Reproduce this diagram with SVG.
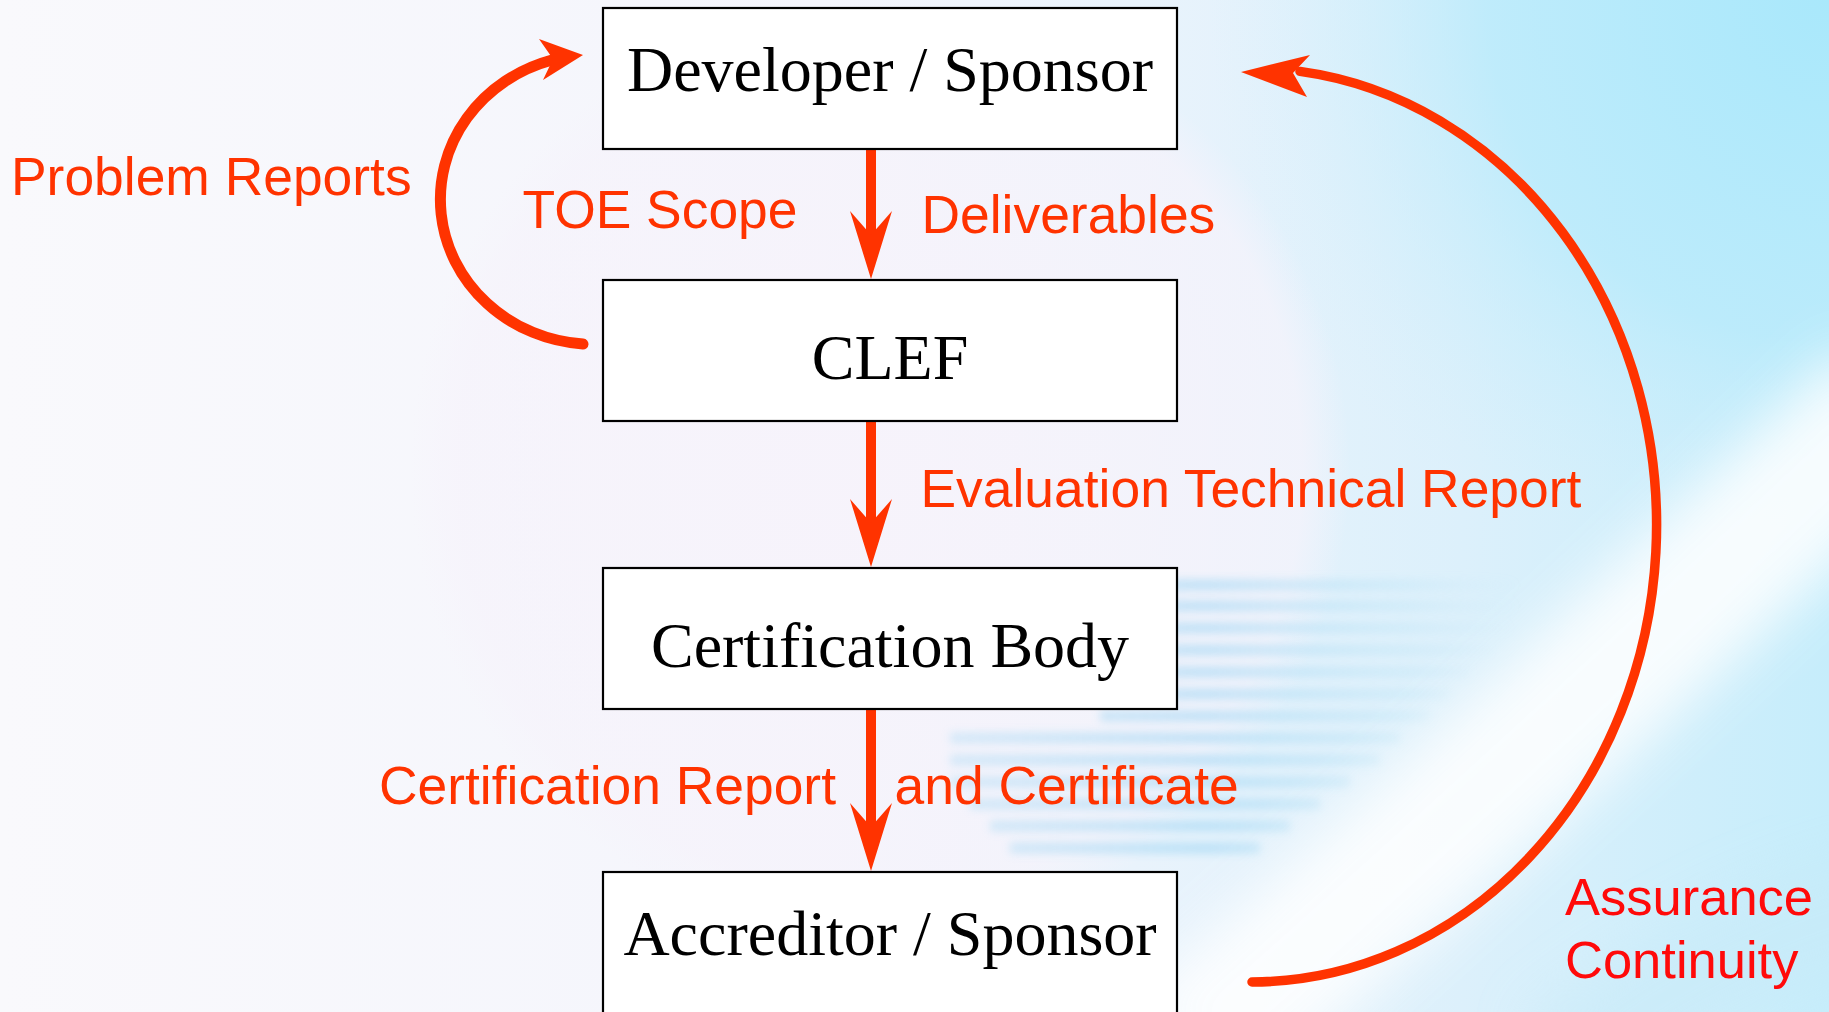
<svg xmlns="http://www.w3.org/2000/svg" width="1829" height="1012" viewBox="0 0 1829 1012">
  <defs>
    <style>
      .box { fill: #ffffff; stroke: #000000; stroke-width: 2.2; }
      .node-text { font-family: "Liberation Serif", "Times New Roman", serif; font-size: 64px; fill: #000000; text-anchor: middle; }
      .label { font-family: "Liberation Sans", Arial, sans-serif; font-size: 53.4px; fill: #ff3300; }
      .label-red { font-family: "Liberation Sans", Arial, sans-serif; font-size: 52.5px; fill: #ff0a0a; }
      .shaft { stroke: #ff3300; stroke-width: 10; fill: none; }
      .curve { stroke: #ff3300; fill: none; stroke-linecap: round; }
      .head { fill: #ff3300; }
    </style>
    <linearGradient id="bgGrad" x1="0" y1="0" x2="1" y2="0">
      <stop offset="0" stop-color="#f9f9fc"/>
      <stop offset="0.45" stop-color="#f4f5fc"/>
      <stop offset="0.62" stop-color="#e9f3fc"/>
      <stop offset="0.8" stop-color="#dcf0fb"/>
      <stop offset="1" stop-color="#c6edfb"/>
    </linearGradient>
    <radialGradient id="cyanGlow" cx="1829" cy="0" r="620" gradientUnits="userSpaceOnUse">
      <stop offset="0" stop-color="#a9e8fb" stop-opacity="1"/>
      <stop offset="0.55" stop-color="#b6eafb" stop-opacity="0.75"/>
      <stop offset="1" stop-color="#d8f0fc" stop-opacity="0"/>
    </radialGradient>
    <radialGradient id="lavender" cx="880" cy="470" r="470" gradientUnits="userSpaceOnUse">
      <stop offset="0" stop-color="#f7f3fb" stop-opacity="0.9"/>
      <stop offset="0.9" stop-color="#f6f3fb" stop-opacity="0.7"/>
      <stop offset="1" stop-color="#f6f3fb" stop-opacity="0"/>
    </radialGradient>
    <linearGradient id="streakFade" x1="950" y1="0" x2="1520" y2="0" gradientUnits="userSpaceOnUse">
      <stop offset="0" stop-color="#9ed6f3" stop-opacity="0.6"/>
      <stop offset="0.45" stop-color="#9ad4f3" stop-opacity="0.9"/>
      <stop offset="0.8" stop-color="#afdff5" stop-opacity="0.45"/>
      <stop offset="1" stop-color="#c4e8f8" stop-opacity="0"/>
    </linearGradient>
    <filter id="blurBig" x="-50%" y="-50%" width="200%" height="200%">
      <feGaussianBlur stdDeviation="28"/>
    </filter>
    <filter id="blurSmall" x="-10%" y="-100%" width="120%" height="300%">
      <feGaussianBlur stdDeviation="4"/>
    </filter>
    <path id="downHead" d="M0,0 L-21,-68 L0,-44 L21,-68 Z"/>
  </defs>

  <!-- background -->
  <g id="background">
    <rect x="0" y="0" width="1829" height="1012" fill="url(#bgGrad)"/>
    <rect x="0" y="0" width="1829" height="1012" fill="url(#cyanGlow)"/>
    <circle cx="880" cy="470" r="470" fill="url(#lavender)"/>
    <g filter="url(#blurSmall)" stroke="url(#streakFade)" stroke-width="11" opacity="0.6">
      <line x1="1170" y1="585" x2="1540" y2="585"/>
      <line x1="1170" y1="606" x2="1530" y2="606"/>
      <line x1="1170" y1="628" x2="1510" y2="628"/>
      <line x1="1170" y1="650" x2="1490" y2="650"/>
      <line x1="1170" y1="672" x2="1470" y2="672"/>
      <line x1="1170" y1="694" x2="1450" y2="694"/>
      <line x1="1100" y1="716" x2="1430" y2="716"/>
      <line x1="950" y1="738" x2="1400" y2="738"/>
      <line x1="950" y1="760" x2="1380" y2="760"/>
      <line x1="950" y1="782" x2="1350" y2="782"/>
      <line x1="970" y1="804" x2="1320" y2="804"/>
      <line x1="990" y1="826" x2="1290" y2="826"/>
      <line x1="1010" y1="848" x2="1260" y2="848"/>
    </g>
    <path d="M1180,1060 Q1520,760 1900,400" stroke="#ffffff" stroke-width="150" fill="none" opacity="0.85" filter="url(#blurBig)"/>
    <path d="M1560,1070 Q1720,940 1900,900" stroke="#c8eaf8" stroke-width="110" fill="none" opacity="0.55" filter="url(#blurBig)"/>
  </g>

  <!-- connectors -->
  <g id="connectors">
    <line class="shaft" x1="871" y1="149" x2="871" y2="240"/>
    <use href="#downHead" class="head" transform="translate(871,279)"/>
    <line class="shaft" x1="871" y1="422" x2="871" y2="528"/>
    <use href="#downHead" class="head" transform="translate(871,567)"/>
    <line class="shaft" x1="871" y1="710" x2="871" y2="832"/>
    <use href="#downHead" class="head" transform="translate(871,871)"/>

    <!-- Problem Reports loop: CLEF back to Developer -->
    <path class="curve" stroke-width="11" d="M583,344 A154 145 0 0 1 552,60"/>
    <polygon class="head" points="583,55 539,39 553,59 543,80"/>

    <!-- Assurance Continuity loop: Accreditor back to Developer -->
    <path class="curve" stroke-width="9.5" d="M1252,982 A406 457 0 0 0 1300,71.4"/>
    <polygon class="head" points="1241,72 1310,55 1293,73 1307,97"/>
  </g>

  <!-- nodes -->
  <g id="node-developer">
    <rect class="box" x="603" y="8" width="574" height="141"/>
    <text class="node-text" x="890" y="91">Developer / Sponsor</text>
  </g>
  <g id="node-clef">
    <rect class="box" x="603" y="280" width="574" height="141"/>
    <text class="node-text" x="890" y="378.5">CLEF</text>
  </g>
  <g id="node-certification-body">
    <rect class="box" x="603" y="568" width="574" height="141"/>
    <text class="node-text" x="890" y="666.5">Certification Body</text>
  </g>
  <g id="node-accreditor">
    <rect class="box" x="603" y="872" width="574" height="150"/>
    <text class="node-text" x="890" y="955">Accreditor / Sponsor</text>
  </g>

  <!-- labels -->
  <g id="labels">
    <text class="label" x="11" y="195">Problem Reports</text>
    <text class="label" x="522.5" y="228">TOE Scope</text>
    <text class="label" x="921.5" y="233">Deliverables</text>
    <text class="label" x="920.5" y="506.5">Evaluation Technical Report</text>
    <text class="label" x="379" y="804">Certification Report</text>
    <text class="label" x="894.5" y="804">and Certificate</text>
    <text class="label-red" x="1565" y="915">Assurance</text>
    <text class="label-red" x="1565" y="978">Continuity</text>
  </g>
</svg>
